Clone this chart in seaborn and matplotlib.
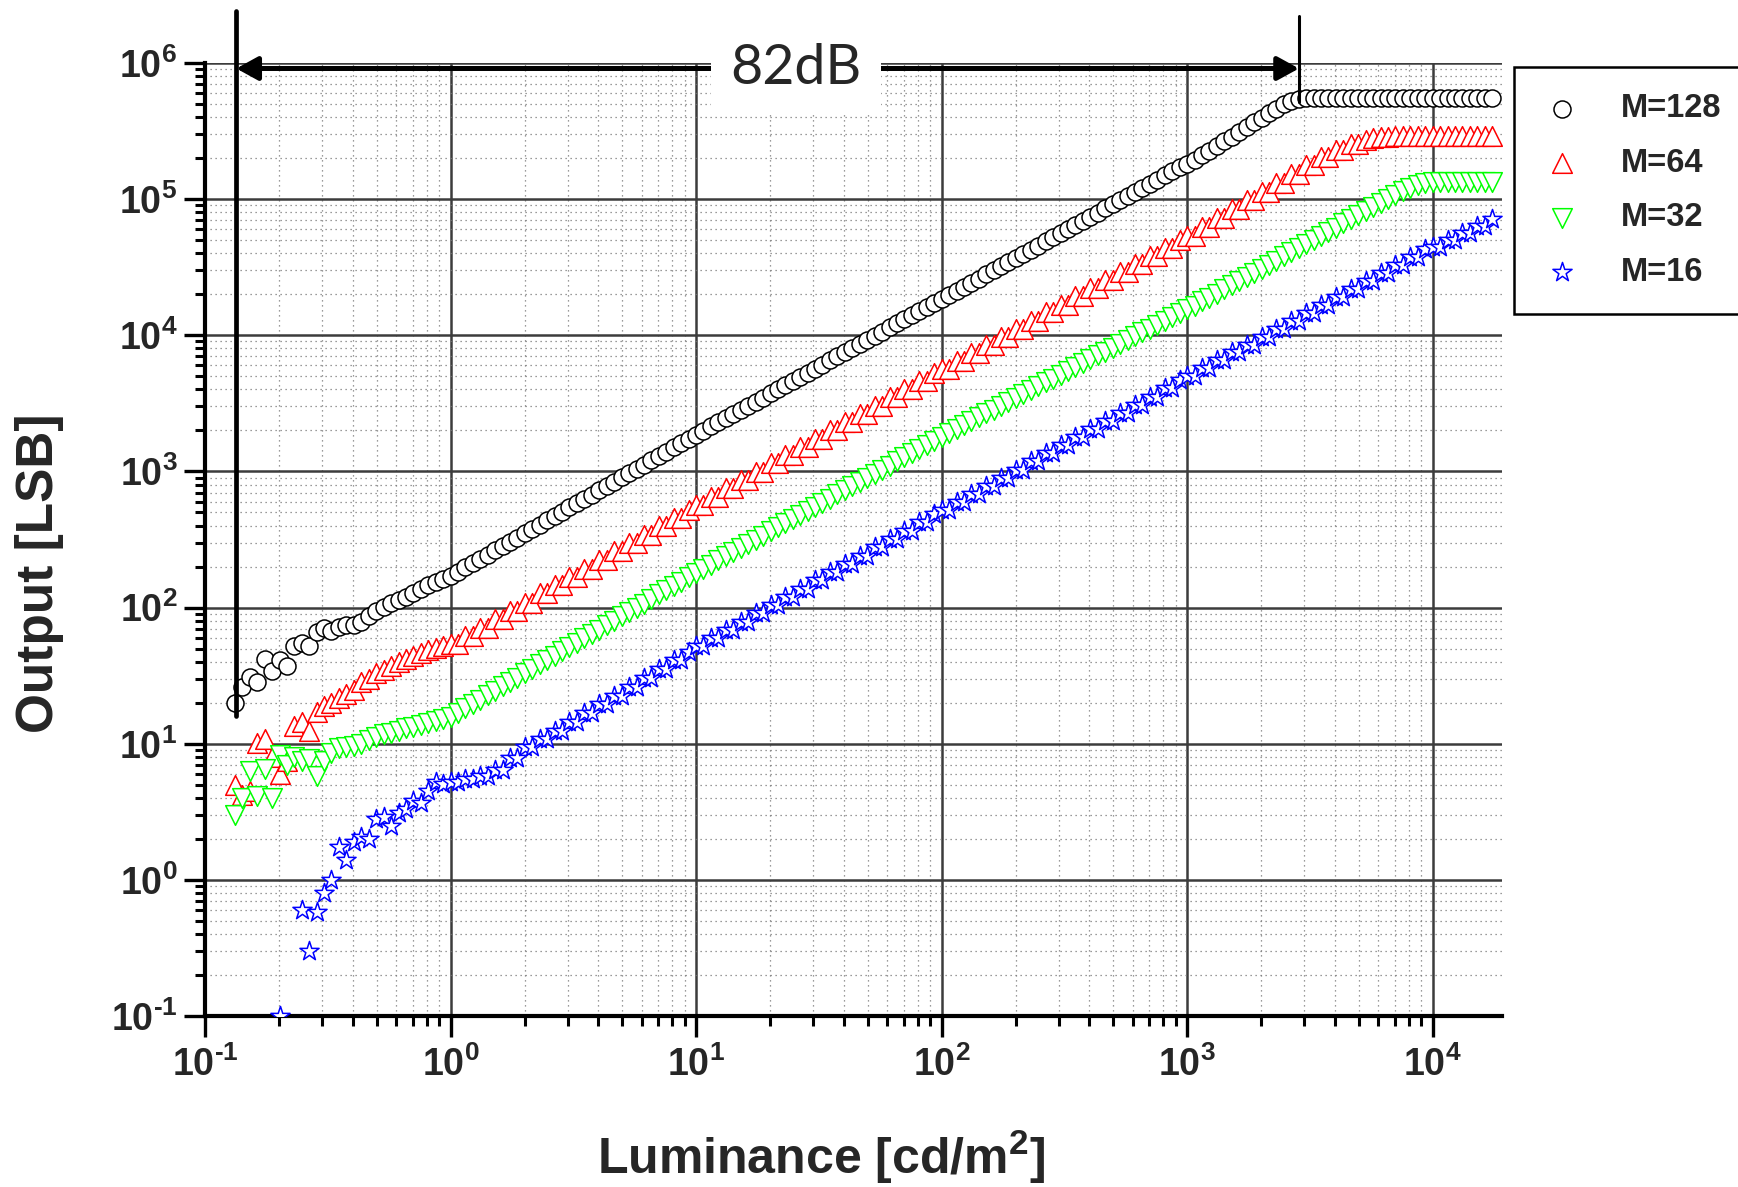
import numpy as np
import pandas as pd
import seaborn as sns
import matplotlib.pyplot as plt
from matplotlib.patches import ArrowStyle
from matplotlib.ticker import LogLocator, NullFormatter, FuncFormatter

nan = np.nan

# luminance sweep [cd/m2], shared by all four curves
luminance = [
    0.132, 0.142, 0.152, 0.163, 0.175, 0.187, 0.201, 0.215, 0.231, 0.248, 0.266, 0.285, 0.305, 0.327,
    0.351, 0.376, 0.404, 0.433, 0.464, 0.498, 0.534, 0.572, 0.614, 0.658, 0.705, 0.756, 0.811, 0.870, 0.933,
    1.00, 1.07, 1.15, 1.23, 1.32, 1.42, 1.52, 1.63, 1.75, 1.87, 2.01, 2.15, 2.31, 2.48, 2.66, 2.85, 3.05,
    3.27, 3.51, 3.76, 4.04, 4.33, 4.64, 4.98, 5.34, 5.72, 6.14, 6.58, 7.05, 7.56, 8.11, 8.70, 9.33,
    10.0, 10.7, 11.5, 12.3, 13.2, 14.2, 15.2, 16.3, 17.5, 18.7, 20.1, 21.5, 23.1, 24.8, 26.6, 28.5, 30.5,
    32.7, 35.1, 37.6, 40.4, 43.3, 46.4, 49.8, 53.4, 57.2, 61.4, 65.8, 70.5, 75.6, 81.1, 87.0, 93.3,
    100, 107, 115, 123, 132, 142, 152, 163, 175, 187, 201, 215, 231, 248, 266, 285, 305,
    327, 351, 376, 404, 433, 464, 498, 534, 572, 614, 658, 705, 756, 811, 870, 933,
    1000, 1072, 1150, 1233, 1322, 1418, 1520, 1630, 1748, 1874, 2009, 2154, 2310, 2477, 2656, 2848, 3054,
    3275, 3511, 3765, 4037, 4329, 4642, 4977, 5337, 5722, 6136, 6579, 7055, 7565, 8111, 8698, 9326,
    10000, 10720, 11500, 12330, 13220, 14180, 15200, 16300, 17480,
]

out_m128 = [
    20, 26, 31, 28.5, 42, 34, 41, 37, 52, 55, 52, 66, 71, 67, 72, 75, 75, 79, 86, 94, 101, 108, 114,
    120, 128, 136, 146, 154, 162,
    170, 183, 197, 211, 227, 245, 263, 283, 304, 327, 352, 378, 407, 437, 470, 506, 544, 585, 629, 676,
    727, 781, 840, 903, 971, 1044, 1123, 1207, 1298, 1396, 1501, 1613, 1735,
    1860, 1994, 2139, 2293, 2459, 2637, 2827, 3031, 3250, 3485, 3737, 4007, 4297, 4607, 4940, 5297, 5680,
    6091, 6531, 7003, 7509, 8052, 8633, 9257, 9926, 10640, 11410, 12240, 13120, 14070, 15090, 16180, 17350,
    18400, 19730, 21160, 22680, 24320, 26080, 27970, 29990, 32150, 34480, 36970, 39640, 42510, 45580,
    48870, 52400, 56190, 60250, 64610, 69270, 74280, 79650, 85410, 91580, 98190, 105300, 112900, 121100,
    129800, 139200, 149200, 160000, 171600,
    181000, 195000, 210000, 227000, 245000, 265000, 287000, 311000, 337000, 366000, 396000, 428000,
    462000, 495000, 522000, 540000, 550000, 555000, 556000, 556000, 556000, 556000, 556000, 556000,
    556000, 556000, 556000, 556000, 556000, 556000, 556000, 556000, 556000,
    556000, 556000, 556000, 556000, 556000, 556000, 556000, 556000, 556000,
]

out_m64 = [
    5.0, 4.2, 4.5, 10.2, 10.8, 8.0, 6.0, 7.5, 13.5, 14.5, 12.3, 17, 19, 20, 21.5, 23, 25, 28.5, 30, 33,
    35, 37, 40, 42, 44, 46.5, 48.5, 50.5, 52,
    53.8, 53.8, 61.9, 61.9, 71.1, 71.1, 81.8, 81.8, 94.1, 94.1, 108, 108, 127, 127, 146, 146, 168, 168,
    193, 193, 222, 222, 259, 259, 298, 298, 343, 343, 394, 394, 453, 453, 521,
    569, 569, 654, 654, 752, 752, 865, 865, 995, 995, 1144, 1144, 1315, 1315, 1512, 1512, 1738, 1738,
    1999, 1999, 2298, 2298, 2642, 2642, 3038, 3038, 3493, 3493, 4016, 4016, 4617, 4617, 5309,
    5640, 5640, 6470, 6470, 7420, 7420, 8500, 8500, 9750, 9750, 11200, 11200, 12800, 12800, 14700, 14700,
    16800, 16800, 19300, 19300, 22100, 22100, 25400, 25400, 29100, 29100, 33400, 33400, 38200, 38200,
    43800, 43800, 50300,
    53800, 53800, 62500, 62500, 72500, 72500, 84200, 84200, 97700, 97700, 113300, 113300, 131500, 131500,
    152600, 152600, 177000, 177000, 203500, 203500, 229000, 229000, 252000, 252000, 272000, 281000,
    286000, 288000, 289000, 289000, 289000, 289000, 289000,
    289000, 289000, 289000, 289000, 289000, 289000, 289000, 289000, 289000,
]

out_m32 = [
    3.0, 4.0, 6.3, 4.1, 6.5, 4.0, 8.3, 7.0, 8.0, 7.5, 7.7, 5.8, 7.5, 8.5, 9.3, 9.5, 9.6, 10.0, 10.7, 11.2,
    11.8, 12.0, 12.3, 13.0, 13.3, 13.8, 14.2, 14.8, 15.3,
    15.7, 16.9, 18.2, 19.6, 21.1, 22.7, 24.5, 26.4, 28.4, 30.6, 32.9, 35.5, 38.2, 41.1, 44.3, 47.7, 51.4,
    55.3, 59.5, 64.1, 69.0, 74.3, 80.0, 86.1, 92.7, 99.8, 107, 116, 125, 134, 144, 155, 167,
    180, 193, 207, 222, 238, 255, 274, 293, 315, 337, 362, 388, 416, 446, 478, 513, 550, 589, 632, 678,
    727, 779, 835, 896, 961, 1030, 1104, 1184, 1270, 1362, 1460, 1566, 1679,
    1800, 1922, 2052, 2191, 2340, 2498, 2667, 2847, 3039, 3245, 3464, 3699, 3948, 4216, 4499, 4802, 5127,
    5472, 5843, 6235, 6653, 7104, 7580, 8093, 8635, 9219, 9836, 10490, 11200, 11950, 12760, 13610, 14530,
    15500, 16500, 17700, 18900, 20200, 21700, 23300, 24900, 26700, 28700, 30700, 33000, 35300, 37900,
    40600, 43600, 46700, 50100, 53700, 57600, 61800, 66200, 71000, 76100, 81700, 87600, 93900, 100700,
    107900, 115000, 121000, 127000, 131000,
    133000, 134000, 134000, 134000, 134000, 134000, 134000, 134000, 134000,
]

out_m16 = [
    nan, nan, nan, nan, nan, nan, 0.1, nan, nan, 0.6, 0.3, 0.58, 0.8, 1.0, 1.75, 1.4, 1.9, 2.05, 2.0,
    2.8, 2.9, 2.5, 3.1, 3.3, 3.8, 3.7, 4.5, 5.2, 5.1,
    5.2, 5.2, 5.5, 5.5, 5.8, 5.8, 6.4, 6.4, 7.8, 7.8, 9.5, 9.5, 10.8, 10.8, 12.5, 12.5, 14.5, 14.5,
    16.8, 16.8, 19.5, 19.5, 22.6, 22.6, 26.2, 26.2, 30.5, 30.5, 35.3, 35.3, 41.0, 41.0, 47.5,
    52.0, 52.0, 59.8, 59.8, 68.7, 68.7, 79.0, 79.0, 90.9, 90.9, 104.5, 104.5, 120, 120, 138, 138, 159,
    159, 183, 183, 210, 210, 241, 241, 278, 278, 319, 319, 367, 367, 422, 422, 485,
    520, 520, 597, 597, 684, 684, 784, 784, 900, 900, 1032, 1032, 1184, 1184, 1358, 1358, 1556, 1556,
    1786, 1786, 2049, 2049, 2351, 2351, 2697, 2697, 3092, 3092, 3544, 3544, 4066, 4066, 4655,
    4990, 4990, 5720, 5720, 6530, 6530, 7480, 7480, 8540, 8540, 9780, 9780, 11170, 11170, 12790, 12790,
    14610, 14610, 16720, 16720, 19100, 19100, 21870, 21870, 24980, 24980, 28590, 28590, 32650, 32650,
    37370, 37370, 42680,
    44700, 44700, 50200, 50200, 56400, 56400, 63200, 63200, 70900,
]

labels = ["M=128", "M=64", "M=32", "M=16"]

# dynamic range annotation (82 dB)
range_lo, range_hi = 0.134, 2855
range_y = 9.1e5

sns.set_style("ticks")
plt.rcParams['font.family'] = ['Liberation Sans', 'DejaVu Sans']
plt.rcParams['mathtext.fontset'] = 'custom'
plt.rcParams['mathtext.rm'] = 'Liberation Sans:bold'
plt.rcParams['mathtext.it'] = 'Liberation Sans:bold'
plt.rcParams['mathtext.bf'] = 'Liberation Sans:bold'
plt.rcParams['axes.unicode_minus'] = False

fig = plt.figure(figsize=(17.38, 11.87), dpi=100)
ax = fig.add_axes([0.118, 0.144, 0.746, 0.803])
ax.set_xscale('log')
ax.set_yscale('log')

styles = [('o', 'black', 150), ('^', 'red', 200), ('v', '#00ff00', 200), ('*', 'blue', 210)]
for lab, vals, (mk, col, sz) in zip(labels, [out_m128, out_m64, out_m32, out_m16], styles):
    d = pd.DataFrame({'lum': luminance, 'out': vals}).dropna()
    sns.scatterplot(data=d, x='lum', y='out', marker=mk, s=sz, facecolor='white',
                    edgecolor=col, linewidth=1.1, label=lab, ax=ax, zorder=3)

ax.set_xlim(0.1, 19100)
ax.set_ylim(0.1, 1e6)


def pow_label(v, pos):
    e = int(round(np.log10(v)))
    if e < 0:
        return r'$\mathbf{10^{\text{-}%d}}$' % (-e)
    return r'$\mathbf{10^{%d}}$' % e


for axis in (ax.xaxis, ax.yaxis):
    axis.set_major_locator(LogLocator(base=10, numticks=12))
    axis.set_minor_locator(LogLocator(base=10, subs=np.arange(2, 10), numticks=100))
    axis.set_major_formatter(FuncFormatter(pow_label))
    axis.set_minor_formatter(NullFormatter())

ax.tick_params(which='major', direction='out', length=15, width=2.4, labelsize=27, color='black')
ax.tick_params(which='minor', direction='out', length=7.5, width=2.2, color='black')
ax.tick_params(axis='x', which='major', pad=7)
ax.tick_params(axis='y', which='major', pad=5)

ax.grid(which='major', color='#3c3c3c', lw=1.8, ls='-')
ax.grid(which='minor', color='#7a7a7a', lw=0.9, ls=(0, (1, 3)))
ax.set_axisbelow(True)

for s in ['top', 'right']:
    ax.spines[s].set_visible(False)
for s in ['left', 'bottom']:
    ax.spines[s].set_linewidth(3)
    ax.spines[s].set_color('black')

ax.set_xlabel('Luminance [cd/m$^{2}$]', fontsize=36, fontweight='bold')
ax.set_ylabel('Output [LSB]', fontsize=37, fontweight='bold')
ax.xaxis.label.set_va('center')
ax.yaxis.label.set_va('center')
ax.xaxis.set_label_coords(0.475, -0.148)
ax.yaxis.set_label_coords(-0.128, 0.465)

# 82dB range marker
ax.plot([range_lo, range_lo], [16, 2.4e6], color='black', lw=3.4, clip_on=False, zorder=5)
ax.plot([range_hi, range_hi], [5.2e5, 2.2e6], color='black', lw=2.2, clip_on=False, zorder=5)
ax.annotate('', xy=(range_lo, range_y), xytext=(range_hi, range_y),
            arrowprops=dict(arrowstyle=ArrowStyle('<|-|>', head_length=1.0, head_width=0.55),
                            color='black', lw=3.6, mutation_scale=13, shrinkA=0, shrinkB=0),
            annotation_clip=False, zorder=6)
ax.text(np.sqrt(range_lo * range_hi) * 1.3, range_y, '82dB', family='Lato', fontweight='normal',
        fontsize=40, ha='center', va='center', zorder=7,
        bbox=dict(boxstyle='square,pad=0.35', fc='white', ec='none'))

leg = ax.legend(loc='upper left', bbox_to_anchor=(1514 / 1738, 1 - 67 / 1187),
                bbox_transform=fig.transFigure, frameon=True, fancybox=False,
                edgecolor='black', framealpha=1,
                prop={'family': 'Liberation Sans', 'weight': 'bold', 'size': 23.5},
                handlelength=1.35, handletextpad=1.13, borderpad=0.8, labelspacing=0.72,
                borderaxespad=0, scatterpoints=1)
leg.get_frame().set_linewidth(1.8)

fig.savefig('out.png', dpi=100)
